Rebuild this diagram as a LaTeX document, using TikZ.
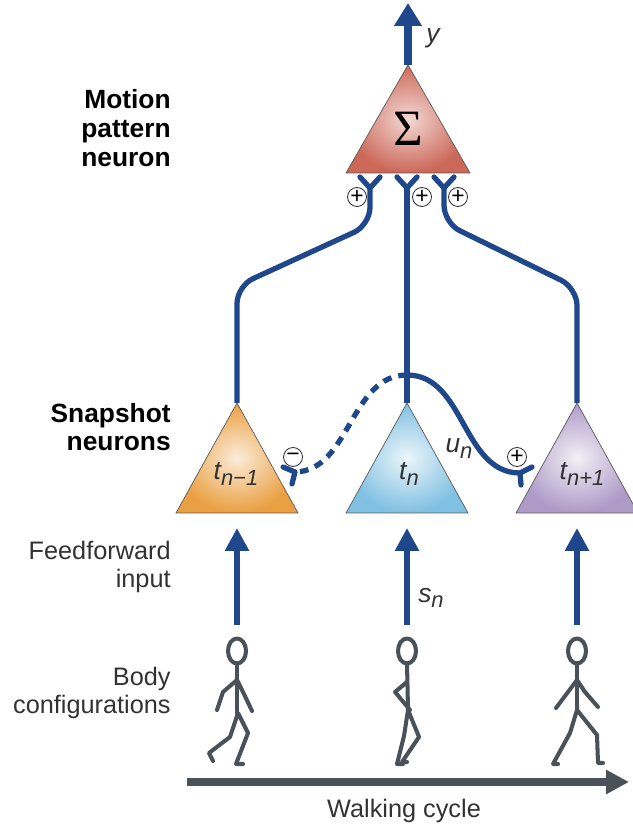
\documentclass[tikz,border=0pt]{standalone}
\usepackage{fontspec}
\setmainfont{Liberation Sans}
\newfontfamily\sumfont{Liberation Serif}
\usetikzlibrary{arrows.meta,positioning}

\definecolor{axonblue}{RGB}{31,71,139}
\definecolor{figgray}{RGB}{74,81,89}
\definecolor{textgray}{RGB}{50,50,50}
\definecolor{sumred}{RGB}{204,104,88}
\definecolor{prevorange}{RGB}{234,160,66}
\definecolor{curblue}{RGB}{128,192,226}
\definecolor{nextpurple}{RGB}{174,154,199}

% lowered index for the cell labels
\newcommand{\lowidx}[1]{\raisebox{-0.4ex}{\fontsize{12.5}{12.5}\selectfont #1}}

\begin{document}
\begin{tikzpicture}[x=0.02cm, y=0.02cm,
    soma/.style={draw=black!65, line width=0.4pt},
    axon/.style={draw=axonblue, line width=3pt},
    synapse/.style={draw=axonblue, line width=3pt, line cap=round, line join=round},
    sign/.style={circle, draw=black!80, line width=0.5pt, inner sep=0pt, minimum size=0.38cm, font=\fontsize{13}{13}\selectfont},
    feed/.style={draw=axonblue, line width=3.6pt, -{Triangle[width=13pt,length=13pt]}},
    cell/.style={font=\fontsize{15}{15}\selectfont\itshape, text=textgray},
    side/.style={anchor=east, align=right, inner sep=0pt, font=\fontsize{14.4}{16.3}\selectfont, text=textgray},
    title/.style={anchor=east, align=right, inner sep=0pt, font=\fontsize{15}{16.3}\selectfont\bfseries, text=black},
    walker/.style={draw=figgray, line width=2.3pt, line cap=round, line join=round}]

\useasboundingbox (0,0) rectangle (632,831);

% Row labels
\node[title] (motion) at (171,703) {Motion\\pattern\\neuron};
\node[title] (snapshot) at (171,404) {Snapshot\\neurons};
\node[side] (feedforward) at (171,264) {Feedforward\\input};
\node[side] (body) at (171,138) {Body\\configurations};

% Motion pattern neuron
\shadedraw[soma, inner color=sumred!25!white, outer color=sumred] (408,766) -- (346,658) -- (470,658) -- cycle;
\node[font=\sumfont\fontsize{29}{29}\selectfont] (sigma) at (408,702) {Σ};
\coordinate (sigma-top) at (408,766);
\coordinate (out) at (408,828);
\draw[feed, line width=4pt, -{Triangle[width=15pt,length=13pt]}] (sigma-top) -- (out);
\node[cell, anchor=base] (y) at (433,788) {y};

% Snapshot neurons
\shadedraw[soma, inner color=prevorange!20!white, outer color=prevorange] (237,428) -- (176,318) -- (298,318) -- cycle;
\shadedraw[soma, inner color=curblue!15!white, outer color=curblue] (407,428) -- (346,318) -- (468,318) -- cycle;
\shadedraw[soma, inner color=nextpurple!15!white, outer color=nextpurple] (577,428) -- (516,318) -- (638,318) -- cycle;
\node[cell, anchor=base] (tprev) at (236,351) {t\lowidx{n−1}};
\node[cell, anchor=base] (tcur) at (409,351) {t\lowidx{n}};
\node[cell, anchor=base] (tnext) at (582,351) {t\lowidx{n+1}};
\coordinate (prev-top) at (237,428);
\coordinate (cur-top) at (407,428);
\coordinate (next-top) at (577,428);

% Synapses onto the motion pattern neuron
\coordinate (syn1) at (370,643);
\coordinate (syn2) at (407,643);
\coordinate (syn3) at (444,643);
\draw[synapse] (360,654) -- (syn1) -- (380,654);
\draw[synapse] (397,654) -- (syn2) -- (417,654);
\draw[synapse] (434,654) -- (syn3) -- (454,654);
\node[sign] (plus1) at (357,634) {+};
\node[sign] (plus2) at (422,634) {+};
\node[sign] (plus3) at (458,634) {+};

% Axons
\draw[axon, rounded corners=10pt] (prev-top) -- (237,545) -- (370,606) -- (syn1);
\draw[axon] (cur-top) -- (syn2);
\draw[axon, rounded corners=10pt] (next-top) -- (577,543) -- (444,608) -- (syn3);

% Lateral connections
\coordinate (branch) at (407,456);
\coordinate (synprev) at (295,359);
\coordinate (synnext) at (520,358);
\draw[axon, dash pattern=on 5pt off 4pt] (branch) .. controls (350,456) and (350,360) .. (synprev);
\draw[synapse] (283,364) -- (synprev) -- (292,347);
\draw[axon] (branch) .. controls (465,456) and (462,358) .. (synnext);
\draw[synapse] (532,364) -- (synnext) -- (521,346);
\node[sign] (minus) at (293,374) {−};
\node[sign] (plus4) at (517,374) {+};
\node[cell, anchor=base] (un) at (459,378) {u\lowidx{n}};

% Feedforward input
\foreach \x/\n in {237/1,407/2,577/3} {
  \coordinate (in\n) at (\x,206);
  \coordinate (base\n) at (\x,303);
  \draw[feed] (in\n) -- (base\n);
}
\node[cell] (sn) at (431,233) {s\lowidx{n}};

% Body configurations
\draw[walker] (237,180) ellipse (9 and 12.5);
\draw[walker] (237,168) -- (237,118);
\draw[walker] (217,121) -- (223,139) -- (237,151) -- (243,139) -- (252,120);
\draw[walker] (213,70) -- (209,78) -- (230,94) -- (238,118) -- (248,98) -- (236,67) -- (243,67);

\draw[walker] (407,180) ellipse (9 and 12.5);
\draw[walker] (407,168) -- (408,121);
\draw[walker] (407,149) -- (395,139) -- (410,121);
\draw[walker] (407,69) -- (402,69) -- (419,94) -- (408,121) -- (404,95) -- (397,67) -- (403,67);

\draw[walker] (577,180) ellipse (9 and 12.5);
\draw[walker] (577,168) -- (577,121);
\draw[walker] (556,123) -- (568,139) -- (577,151) -- (585,139) -- (598,124);
\draw[walker] (558,67) -- (553,67) -- (570,98) -- (577,121) -- (597,96) -- (598,68) -- (603,68);

% Walking cycle
\coordinate (cyclestart) at (187,49);
\coordinate (cycleend) at (629,49);
\draw[draw=figgray, line width=4pt, -{Triangle[width=13pt,length=13pt]}] (cyclestart) -- (cycleend);
\node[font=\fontsize{14.4}{16}\selectfont, text=textgray, anchor=base] (cycle) at (404,13) {Walking cycle};

\end{tikzpicture}
\end{document}
